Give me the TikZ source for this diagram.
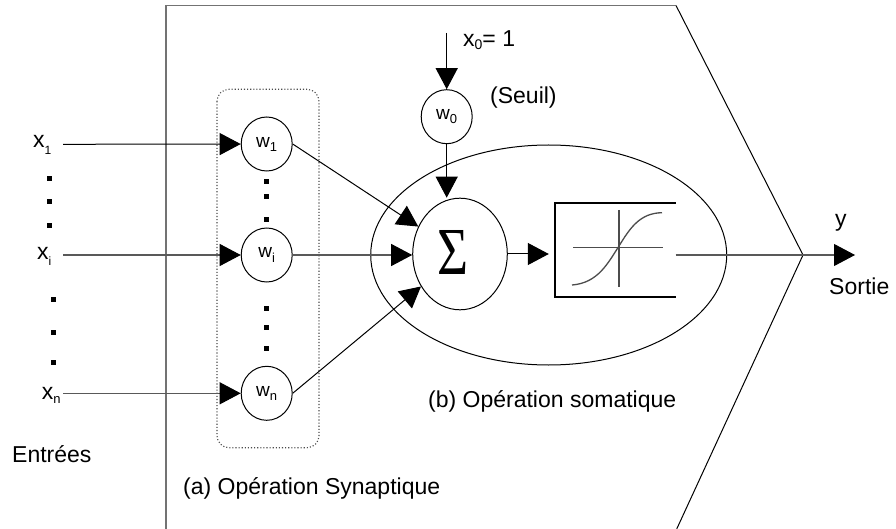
\documentclass[tikz,border=0pt]{standalone}
\usepackage{fontspec}
\usepackage{graphicx}
\setmainfont{Liberation Sans}
\newfontfamily\sigfont{Liberation Serif}
\usetikzlibrary{arrows.meta,shapes.geometric}

% subscript lowered by #1 pt, in size #2
\newcommand\lowsub[3]{\raisebox{-#1pt}{\fontsize{#2}{#2}\selectfont #3}}

\definecolor{framegray}{gray}{0.45}
\definecolor{wiregray}{gray}{0.35}
\definecolor{plotgray}{gray}{0.3}

\begin{document}
\begin{tikzpicture}[x=1pt,y=-1pt,
  lbl/.style={anchor=base west, inner sep=0pt, font=\fontsize{23}{27}\selectfont},
  wnode/.style={draw, ellipse, minimum width=51pt, minimum height=54pt, inner sep=0pt,
                line width=1pt, font=\fontsize{19}{20}\selectfont},
  arr/.style={line width=1pt, -{Triangle[length=21pt,width=22pt,color=black]}},
  wire/.style={line width=1pt},
  sqdot/.style={fill=black}
]
\useasboundingbox (0,0) rectangle (896,529);
\fill[white] (0,0) rectangle (896,529);

% neuron outline
\coordinate (pbl) at (166,529);
\coordinate (ptl) at (166,5.5);
\coordinate (ptr) at (676,5.5);
\coordinate (apex) at (803,255);
\coordinate (pbr) at (676.7,529);
\draw[framegray, line width=1.3pt] (pbl) -- (ptl) -- (ptr);
\draw[line width=1pt] (ptr) -- (apex) -- (pbr);

% synaptic block
\draw[plotgray, dotted, line width=1.1pt, rounded corners=12pt] (217,89.3) rectangle (319,447.7);

% soma
\node[draw, ellipse, line width=1pt, minimum width=356pt, minimum height=220pt] (soma) at (548.7,255) {};

% weights
\node[wnode] (w1) at (266.7,144) {w\lowsub{4}{13}{1}};
\node[wnode] (wi) at (266.7,255) {w\lowsub{5}{13}{i}};
\node[wnode] (wn) at (266.7,393.3) {w\lowsub{4}{13}{n}};
\node[wnode] (w0) at (446.7,116.7) {w\lowsub{4}{13}{0}};

% summation
\node[draw, ellipse, line width=1pt, minimum width=94.6pt, minimum height=111.6pt, inner sep=0pt] (sig) at (460,254) {};
\node[inner sep=0pt] (sigma) at (452.5,252) {\resizebox{31pt}{44pt}{\sigfont Σ}};

% activation box (open on the right)
\node[minimum width=120.7pt, minimum height=93.4pt, inner sep=0pt] (phi) at (615.35,250) {};
\draw[line width=2.5pt] (phi.north east) -- (phi.north west) -- (phi.south west) -- (phi.south east);
\coordinate (ax1) at (619,210);
\coordinate (ax2) at (619,287);
\coordinate (ay1) at (573,247.7);
\coordinate (ay2) at (663,247.7);
\draw[plotgray, line width=1.5pt] (ax1) -- (ax2) (ay1) -- (ay2);
\coordinate (s0) at (572,285);
\coordinate (sm) at (619,246);
\coordinate (s1) at (662,212.7);
\draw[plotgray, line width=1.3pt] (s0) .. controls (598,283) and (608,263) .. (sm)
  .. controls (630,228) and (640,213) .. (s1);

% inputs
\coordinate (in1) at (63,144.3);
\coordinate (ini) at (63,255);
\coordinate (inn) at (63,393.3);
\draw[arr] (in1) -- (w1);
\draw[arr, wiregray] (ini) -- (wi);
\draw[arr, wiregray] (inn) -- (wn);

% bias input
\coordinate (x0) at (446.7,33);
\draw[arr] (x0) -- (w0);
\draw[arr] (w0) -- (w0 |- sig.north);

% weighted signals to the sum
\draw[arr] (w1.east) -- (sig);
\draw[arr, wiregray] (wi.east) -- (wi.east -| sig.west);
\draw[arr] (wn.east) -- (sig);

% sum to activation
\draw[arr, shorten >=6pt] (sig.east) -- (sig.east -| phi.west);

% output
\coordinate (o0) at (675.7,255);
\coordinate (out) at (855,255);
\draw[arr, wiregray] (o0) -- (out);

% ellipsis dots
\foreach \yy in {179,202,226} \fill[sqdot] (47,\yy-2.5) rectangle +(5,5);
\foreach \yy in {299,332,362} \fill[sqdot] (51,\yy-2.5) rectangle +(5,5);
\foreach \yy in {181.7,197,220,308,327,348} \fill[sqdot] (264.2,\yy-2.5) rectangle +(5,5);

% labels
\node[lbl] (x1lab) at (33,147.7) {x\lowsub{7}{12}{1}};
\node[lbl] (xilab) at (37,259.3) {x\lowsub{6}{12}{i}};
\node[lbl] (xnlab) at (41.7,399) {x\lowsub{4}{13}{n}};
\node[lbl] (x0lab) at (463,46.7) {x\lowsub{3.3}{14}{0}= 1};
\node[lbl] (seuil) at (490,104) {(Seuil)};
\node[lbl] (ylab) at (835,227) {y};
\node[lbl] (sortie) at (829,294) {Sortie};
\node[lbl] (entrees) at (12,462) {Entrées};
\node[lbl] (synlab) at (183,494) {(a) Opération Synaptique};
\node[lbl] (somlab) at (428,407) {(b) Opération somatique};
\end{tikzpicture}
\end{document}
